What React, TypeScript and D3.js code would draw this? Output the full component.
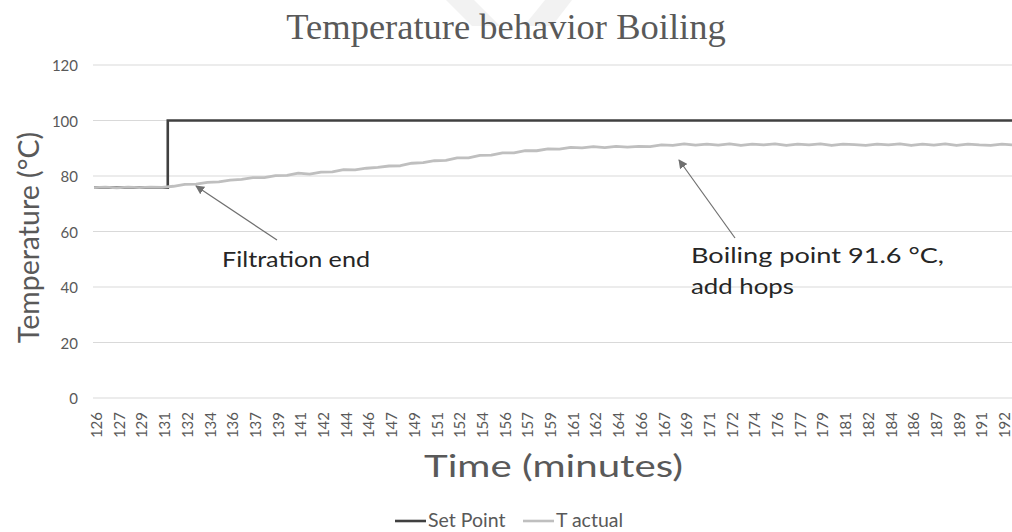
import React from "react";
import * as d3 from "d3";

// x tick labels (one label every 2 data points; data step = 50 s)
const tickLabels = [
  "126", "127", "129", "131", "132", "134", "136", "137", "139", "141",
  "142", "144", "146", "147", "149", "151", "152", "154", "156", "157",
  "159", "161", "162", "164", "166", "167", "169", "171", "172", "174",
  "176", "177", "179", "181", "182", "184", "186", "187", "189", "191", "192",
];

// T actual (°C), one value per data point
const tActual = [
  75.8, 76.0, 75.7, 76.0, 75.8, 76.0, 75.9, 76.3, 77.0, 77.1,
  77.7, 77.9, 78.5, 78.8, 79.4, 79.4, 80.1, 80.2, 81.0, 80.7,
  81.4, 81.5, 82.3, 82.2, 82.8, 83.1, 83.6, 83.7, 84.6, 84.8,
  85.5, 85.6, 86.5, 86.5, 87.4, 87.5, 88.3, 88.3, 89.1, 89.1,
  89.8, 89.7, 90.3, 90.1, 90.6, 90.2, 90.7, 90.4, 90.7, 90.6,
  91.2, 91.0, 91.6, 91.1, 91.5, 91.1, 91.6, 91.0, 91.5, 91.2,
  91.6, 91.0, 91.5, 91.2, 91.6, 91.0, 91.5, 91.3, 91.0, 91.5,
  91.2, 91.6, 91.0, 91.5, 91.1, 91.6, 91.0, 91.5, 91.2, 91.0,
  91.5, 91.2, 91.4,
];

// Set point: data-point index where value holds, and value
const setPointIdx = [0, 6, 7, 82];
const setPointVals = [75.8, 75.8, 100, 100];

const yTicks = [0, 20, 40, 60, 80, 100, 120];

const seriesNames = ["Set Point", "T actual"];
const seriesColors = ["#404040", "#bfbfbf"];

const W = 1012;
const H = 532;
const PL = 93;
const PR = 1012;
const PT = 65;
const PB = 398;
const FONT = "Lato, 'Open Sans', sans-serif";

export default function App() {
  const x = d3.scaleLinear().domain([0, 80]).range([94, 1002]);
  const y = d3.scaleLinear().domain([0, 120]).range([PB, PT]);

  const actualLine = d3
    .line<number>()
    .x((_, i) => x(i))
    .y((d) => y(d));

  const spData = setPointIdx.map((idx, k) => [idx, setPointVals[k]] as [number, number]);
  const spLine = d3
    .line<[number, number]>()
    .x((d) => x(d[0]))
    .y((d) => y(d[1]))
    .curve(d3.curveStep);

  return (
    <svg
      width={W}
      height={H}
      style={{ position: "absolute", left: 0, top: 0, background: "#fff" }}
      fontFamily={FONT}
    >
      <defs>
        <clipPath id="plotClip">
          <rect x={PL} y={PT - 10} width={PR - PL} height={PB - PT + 20} />
        </clipPath>
        <marker
          id="arrowHead"
          viewBox="0 0 10 10"
          refX="9"
          refY="5"
          markerWidth="9"
          markerHeight="9"
          markerUnits="userSpaceOnUse"
          orient="auto"
        >
          <path d="M0,0 L10,5 L0,10 z" fill="#6f6f6f" />
        </marker>
      </defs>

      {/* faint watermark shapes */}
      <polygon points="446,0 474,0 500,26 472,26" fill="#f2f2f2" />
      <polygon points="545,0 572,0 552,26 524,26" fill="#f2f2f2" />

      {/* title */}
      <text
        x={506}
        y={39}
        textAnchor="middle"
        fontFamily="'Liberation Serif', 'Times New Roman', serif"
        fontSize={36.5}
        fill="#595959"
      >
        Temperature behavior Boiling
      </text>

      {/* gridlines */}
      {yTicks.map((t) => (
        <line key={t} x1={PL} x2={PR} y1={y(t)} y2={y(t)} stroke="#d9d9d9" strokeWidth={1} />
      ))}

      {/* y tick labels */}
      {yTicks.map((t) => (
        <text
          key={"yl" + t}
          x={78}
          y={y(t)}
          textAnchor="end"
          dominantBaseline="central"
          fontSize={15}
          fill="#595959"
        >
          {t}
        </text>
      ))}

      {/* x tick labels */}
      {tickLabels.map((lab, k) => (
        <text
          key={"xl" + k}
          transform={`translate(${x(k * 2) + 2},412) rotate(-90)`}
          textAnchor="end"
          dominantBaseline="central"
          fontSize={15}
          fill="#595959"
        >
          {lab}
        </text>
      ))}

      {/* axis titles */}
      <text
        transform={`translate(39,${(PT + PB) / 2 + 6}) rotate(-90)`}
        textAnchor="middle"
        fontSize={28.5}
        fill="#595959"
      >
        Temperature (°C)
      </text>
      <text
        x={424}
        y={477}
        fontSize={31}
        fill="#595959"
        textLength={259}
        lengthAdjust="spacingAndGlyphs"
      >
        Time (minutes)
      </text>

      {/* series */}
      <g clipPath="url(#plotClip)">
        <path d={spLine(spData) || ""} fill="none" stroke={seriesColors[0]} strokeWidth={2.6} />
        <path
          d={actualLine(tActual) || ""}
          fill="none"
          stroke={seriesColors[1]}
          strokeWidth={2.8}
          strokeLinejoin="round"
        />
      </g>

      {/* annotations */}
      <line x1={277} y1={240} x2={196} y2={186} stroke="#6f6f6f" strokeWidth={1.2} markerEnd="url(#arrowHead)" />
      <text x={222} y={267} fontSize={21} fill="#262626" textLength={148} lengthAdjust="spacingAndGlyphs">
        Filtration end
      </text>
      <line x1={735} y1={238} x2={679} y2={160} stroke="#6f6f6f" strokeWidth={1.2} markerEnd="url(#arrowHead)" />
      <text x={691} y={263} fontSize={21} fill="#262626" textLength={253} lengthAdjust="spacingAndGlyphs">
        Boiling point 91.6 °C,
      </text>
      <text x={691} y={294} fontSize={21} fill="#262626" textLength={103} lengthAdjust="spacingAndGlyphs">
        add hops
      </text>

      {/* legend */}
      <g>
        <line x1={395} x2={426} y1={521} y2={521} stroke={seriesColors[0]} strokeWidth={2.6} />
        <text x={428} y={527} fontSize={19.5} fill="#595959">
          {seriesNames[0]}
        </text>
        <line x1={523} x2={554} y1={521} y2={521} stroke={seriesColors[1]} strokeWidth={2.6} />
        <text x={556} y={527} fontSize={19.5} fill="#595959">
          {seriesNames[1]}
        </text>
      </g>
    </svg>
  );
}
